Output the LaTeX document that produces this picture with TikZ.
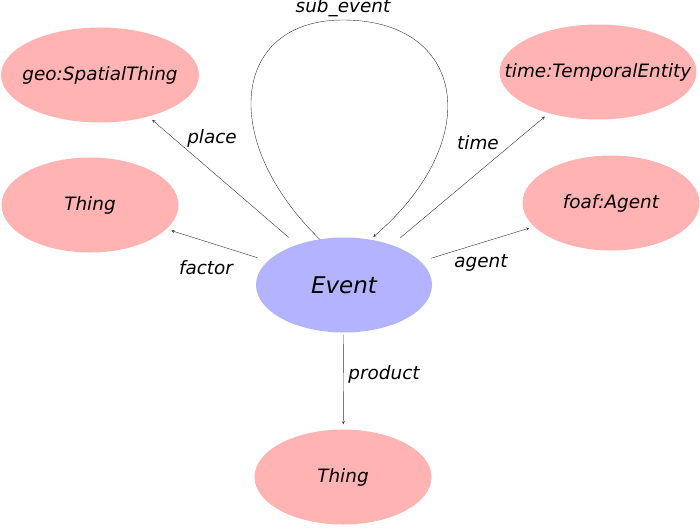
\documentclass[tikz,border=0pt]{standalone}
\usepackage{fontspec}
\setmainfont{DejaVu Sans}
\definecolor{clspink}{RGB}{255,179,179}
\definecolor{evblue}{RGB}{179,179,255}
\newcommand{\cname}[1]{\makebox[0pt]{#1}}
\tikzset{
  cls/.style={ellipse, fill=clspink, minimum width=177pt, minimum height=95pt, inner sep=0pt, font=\fontsize{18.4}{22}\selectfont\itshape},
  rel/.style={draw=black!80, -stealth, shorten <=11pt, shorten >=5pt},
  lbl/.style={inner sep=0pt, font=\fontsize{18.4}{22}\selectfont\itshape}
}
\usetikzlibrary{shapes.geometric}
\begin{document}
\begin{tikzpicture}[x=1pt,y=-1pt]
  \useasboundingbox (0,0) rectangle (700,527);
  % classes
  \node [ellipse, fill=evblue, minimum width=176pt, minimum height=95pt, inner sep=0pt, font=\fontsize{23}{27}\selectfont\itshape] (ev) at (344,285) {\cname{Event}};
  \node [cls, minimum width=198pt] (geo) at (100,75) {\cname{geo:SpatialThing}};
  \node [cls, minimum width=197pt] (tmp) at (598,72) {\cname{time:TemporalEntity}};
  \node [cls] (thg) at (90,205) {\cname{Thing}};
  \node [cls] (agt) at (611,203) {\cname{foaf:Agent}};
  \node [cls] (prd) at (343,477) {\cname{Thing}};
  % relations
  \draw [rel] (ev) -- (geo);
  \draw [rel] (ev) -- (thg);
  \draw [rel] (ev) -- (tmp);
  \draw [rel] (ev) -- (agt);
  \draw [rel, shorten <=2pt] (ev) -- (prd);
  \draw [draw=black!80, -stealth, shorten >=4pt] (ev.118) .. controls (218,140) and (232,20) .. (343,20) .. controls (466,20) and (486,140) .. (ev.60);
  % labels
  \node [lbl] (lplace) at (212,138) {place};
  \node [lbl] (lfactor) at (206,268) {factor};
  \node [lbl] (ltime) at (478,143) {time};
  \node [lbl] (lagent) at (481,263) {agent};
  \node [lbl] (lproduct) at (384,374) {product};
  \node [lbl] (lsub) at (343,8) {sub\_event};
\end{tikzpicture}
\end{document}
